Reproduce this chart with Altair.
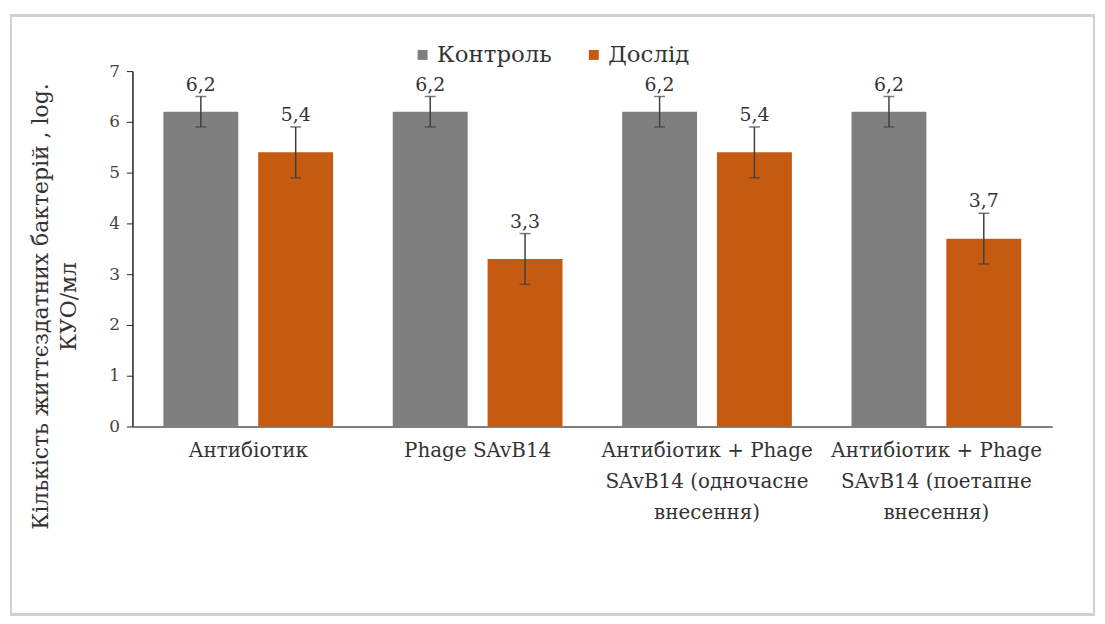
import altair as alt
import pandas as pd

categories = ["Антибіотик", "Phage SAvB14", "Антибіотик + Phage|SAvB14 (одночасне|внесення)", "Антибіотик + Phage|SAvB14 (поетапне|внесення)"]
series = ["Контроль", "Дослід"]
control_vals = [6.2, 6.2, 6.2, 6.2]
control_err = [0.3, 0.3, 0.3, 0.3]
test_vals = [5.4, 3.3, 5.4, 3.7]
test_err = [0.5, 0.5, 0.5, 0.5]

rows = []
for i, c in enumerate(categories):
    for s, v, e in ((series[0], control_vals[i], control_err[i]), (series[1], test_vals[i], test_err[i])):
        rows.append({"cat": c, "series": s, "value": v, "low": v - e, "high": v + e,
                     "label": f"{v:.1f}".replace(".", ",")})
df = pd.DataFrame(rows)

FONT = "DejaVu Serif"
colors = ["#7f7f7f", "#c55a11"]

x = alt.X("cat:N", sort=categories, title=None,
          scale=alt.Scale(paddingInner=0.26, paddingOuter=0.135),
          axis=alt.Axis(labelExpr="split(datum.label, '|')", labelAngle=0, labelFont=FONT,
                        labelFontSize=20, labelColor="#333333", labelLineHeight=31,
                        labelPadding=14, ticks=False, domainColor="#555555", domainWidth=1.5,
                        labelLimit=400))
xo = alt.XOffset("series:N", sort=series, scale=alt.Scale(paddingInner=0.21, paddingOuter=0))

base = alt.Chart(df).encode(x=x, xOffset=xo)

bars = base.mark_bar().encode(
    y=alt.Y("value:Q", scale=alt.Scale(domain=[0, 7]),
            axis=alt.Axis(values=[0, 1, 2, 3, 4, 5, 6, 7], grid=False, tickSize=6,
                          tickColor="#222222", domainColor="#222222", domainWidth=1.5,
                          labelFont=FONT, labelFontSize=17, labelColor="#444444", labelPadding=7,
                          title=["Кількість життєздатних бактерій , log.", "КУО/мл"],
                          titleFont=FONT, titleFontSize=22, titleFontWeight="normal",
                          titleColor="#333333", titleY=236, titleX=-80, titleLineHeight=28)),
    color=alt.Color("series:N", sort=series, scale=alt.Scale(domain=series, range=colors),
                    legend=alt.Legend(title=None, orient="none", legendX=280, legendY=-28,
                                      direction="horizontal", symbolType="square", symbolSize=100,
                                      symbolStrokeWidth=0, labelFont=FONT, labelFontSize=23,
                                      labelColor="#333333", labelOffset=3, columnPadding=30)),
)

rules = base.mark_rule(color="#404040", strokeWidth=1.5).encode(y="low:Q", y2="high:Q")
caps_lo = base.mark_tick(color="#404040", thickness=1.5, size=11).encode(y="low:Q")
caps_hi = base.mark_tick(color="#404040", thickness=1.5, size=11).encode(y="high:Q")
labels = base.mark_text(font=FONT, fontSize=19, color="#333333", baseline="bottom", dy=-2).encode(
    y="high:Q", text="label:N")

frame = alt.Chart(df).mark_rect(fill="transparent", stroke="#d0d0d0", strokeWidth=2).encode(
    x=alt.value(-122), x2=alt.value(966), y=alt.value(-56), y2=alt.value(546))

chart = alt.layer(frame, bars, rules, caps_lo, caps_hi, labels).properties(
    width=924, height=357,
    autosize=alt.AutoSizeParams(type="none"),
    padding={"left": 125, "top": 62, "right": 45, "bottom": 190},
    background="white",
).configure(font=FONT).configure_view(stroke="#ffffff", strokeOpacity=0)

chart.save("out.html", embed_options={"renderer": "svg", "actions": False})
